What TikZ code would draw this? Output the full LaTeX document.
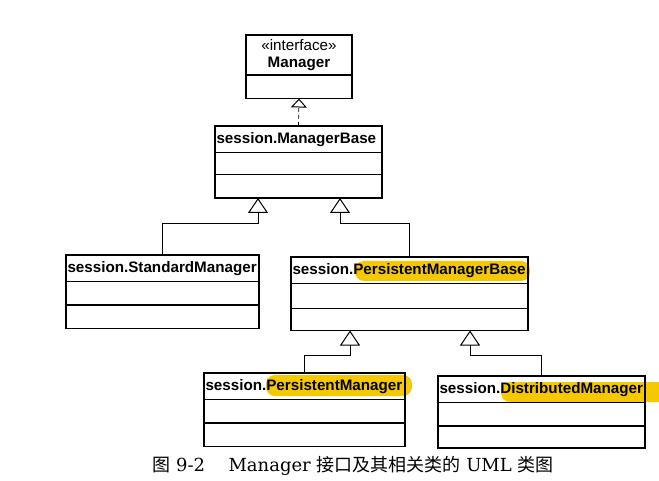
\documentclass[tikz,border=0pt]{standalone}
\usepackage{fontspec}
\setmainfont{DejaVu Serif}
\setsansfont{Liberation Sans}
\newfontfamily\cjk{Noto Sans CJK SC}
\usepackage{xcolor}
\usetikzlibrary{arrows.meta, positioning}
\definecolor{marker}{HTML}{F6C800}

\begin{document}
\begin{tikzpicture}[x=1pt, y=-1pt]
\tikzstyle{classname} = [rectangle, draw=black, line width=1.1pt, outer sep=0pt, anchor=north west, minimum height=26.5pt, inner xsep=1.5pt, align=left, font=\sffamily\bfseries\fontsize{15.2}{17}\selectfont]
\tikzstyle{compart} = [rectangle, draw=black, line width=1.1pt, outer sep=0pt, minimum height=23.5pt]
\tikzstyle{inherit} = [line width=0.7pt, -{Triangle[open, length=15pt, width=20pt, line width=1pt]}]
\tikzstyle{realize} = [line width=0.7pt, dash pattern=on 4pt off 3pt, -{Triangle[open, length=9pt, width=16pt, line width=1pt]}]
\tikzstyle{marked} = [fill=marker, rounded corners=9pt]

\useasboundingbox (0,0) rectangle (659,481);

% Highlighter marks
\fill [marked] (355,261) rectangle (530,281);
\fill [marked] (266,375) rectangle (412,396);
\fill [marked] (501,382) rectangle (680,402);

% Interface
\node (mgr) [classname, minimum height=40pt, text width=103pt, align=center] at (246,35) {{\mdseries «interface»}\\Manager};
\node (mgr1) [compart, minimum width=106pt, below=0pt of mgr] {};

% Base class
\node (mb) [classname, text width=164pt] at (215,126) {session.ManagerBase};
\node (mb1) [compart, minimum width=167pt, minimum height=22pt, below=0pt of mb] {};
\node (mb2) [compart, minimum width=167pt, below=0pt of mb1] {};

% Second level
\node (std) [classname, text width=190pt] at (66,255) {session.StandardManager};
\node (std1) [compart, minimum width=193pt, below=0pt of std] {};
\node (std2) [compart, minimum width=193pt, below=0pt of std1] {};

\node (pmb) [classname, text width=234pt] at (291,257) {session.PersistentManagerBase};
\node (pmb1) [compart, minimum width=237pt, minimum height=25pt, below=0pt of pmb] {};
\node (pmb2) [compart, minimum width=237pt, minimum height=22pt, below=0pt of pmb1] {};

% Third level
\node (pm) [classname, text width=198pt] at (204,373) {session.PersistentManager};
\node (pm1) [compart, minimum width=201pt, below=0pt of pm] {};
\node (pm2) [compart, minimum width=201pt, below=0pt of pm1] {};

\node (dm) [classname, text width=204pt] at (438,376) {session.DistributedManager};
\node (dm1) [compart, minimum width=207pt, below=0pt of dm] {};
\node (dm2) [compart, minimum width=207pt, minimum height=22pt, below=0pt of dm1] {};

% Junctions
\coordinate (j1) at (258,223);
\coordinate (j2) at (340,223);
\coordinate (j3) at (350,355);
\coordinate (j4) at (470,355);

% Connections
\draw [realize] (mb.north) -- (mgr1.south);
\draw [inherit] (std.north) |- (j1) -- (j1 |- mb2.south);
\draw [inherit] (pmb.north) |- (j2) -- (j2 |- mb2.south);
\draw [inherit] (pm.north) |- (j3) -- (j3 |- pmb2.south);
\draw [inherit] (dm.north) |- (j4) -- (j4 |- pmb2.south);

% Caption
\node (cap) at (353,466) {\fontsize{18}{20}\selectfont{\cjk 图} 9-2\hspace{1.3em}Manager {\cjk 接口及其相关类的} UML {\cjk 类图}};

\end{tikzpicture}
\end{document}
